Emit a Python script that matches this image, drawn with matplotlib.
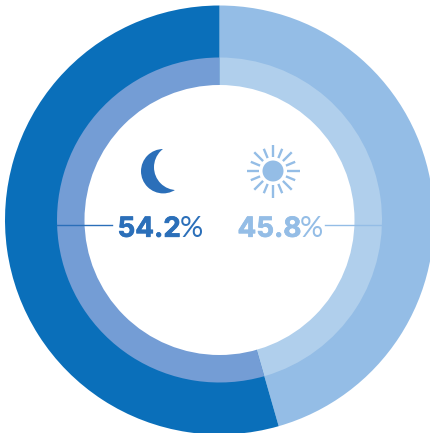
#!/usr/bin/env python3
import numpy as np
import matplotlib
matplotlib.use("Agg")
import matplotlib.pyplot as plt
import matplotlib.patheffects as pe
from matplotlib.patches import Circle

# night / day shares as printed
day_label = "45.8"
night_label = "54.2"
# share of the ring each arc really covers in the picture
shares = [45.55, 54.45]
outer_colors = ["#94bde6", "#0a6fba"]
inner_colors = ["#b0cfec", "#749dd5"]

night_color = "#2b6fb9"
day_color = "#94bde6"

w = 430
h = 433


def yy(y):
    # reference pixel rows count from the top
    return h - y


fig = plt.figure(figsize=(w / 100, h / 100), dpi=100)
ax = fig.add_axes([0, 0, 1, 1])

center = (219.5, yy(220))
ax.pie(shares, radius=214.5, center=center, colors=outer_colors, startangle=90,
       counterclock=False, wedgeprops={"linewidth": 0})
ax.pie(shares, radius=162.5, center=center, colors=inner_colors, startangle=90,
       counterclock=False, wedgeprops={"linewidth": 0})
ax.add_patch(Circle(center, 135, color="white", lw=0))

ax.set_xlim(0, w)
ax.set_ylim(0, h)
ax.set_aspect("equal")
ax.axis("off")

# moon
ax.add_patch(Circle((163.2, yy(171.2)), 22.2, color=night_color, lw=0))
ax.add_patch(Circle((176.9, yy(167.2)), 22.9, color="white", lw=0))

# sun
sx, sy = 273, yy(171)
ax.add_patch(Circle((sx, sy), 10.5, color=day_color, lw=0))
for i in range(16):
    a = np.deg2rad(i * 22.5)
    r2 = 26.5 if i % 2 == 0 else 24
    ax.plot([sx + 14 * np.cos(a), sx + r2 * np.cos(a)],
            [sy + 14 * np.sin(a), sy + r2 * np.sin(a)],
            color=day_color, lw=1.7, solid_capstyle="butt")

# leader lines
ax.plot([57, 112], [yy(225), yy(225)], color=night_color, lw=1.0)
ax.plot([325, 382], [yy(225), yy(225)], color=day_color, lw=1.0)

# values
base = yy(236.8)
for x, x_pct, label, col in [(117.5, 179.5, night_label, night_color),
                             (237.5, 299.5, day_label, day_color)]:
    t = ax.text(x, base, label, color=col, fontsize=20, fontweight="bold",
                family="Inter", ha="left", va="baseline")
    t.set_path_effects([pe.withStroke(linewidth=0.5, foreground=col)])
    ax.text(x_pct, base, "%", color=col, fontsize=21, fontweight="normal",
            family="Lato", ha="left", va="baseline")

fig.savefig("out.png", dpi=100)
